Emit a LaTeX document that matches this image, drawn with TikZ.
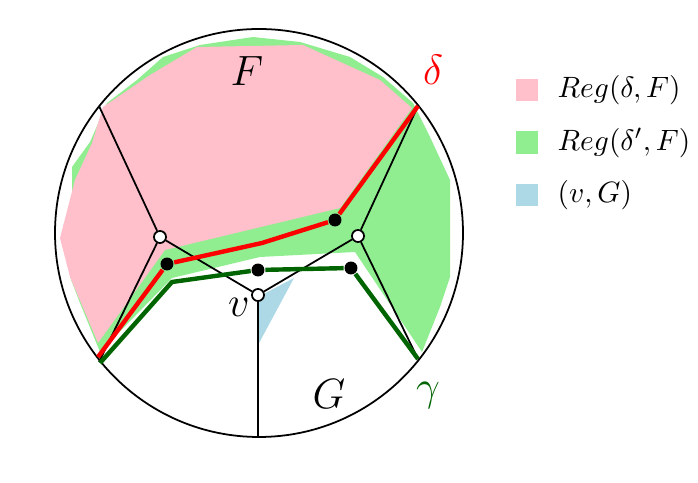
\documentclass[tikz,border=0pt]{standalone}
\usepackage{amsmath}
\usepackage{amssymb}
\usetikzlibrary{calc, positioning}
\definecolor{regpink}{RGB}{255,192,203}
\definecolor{reggreen}{RGB}{144,238,144}
\definecolor{regblue}{RGB}{173,216,230}
\definecolor{pathgreen}{RGB}{0,100,0}

\begin{document}
\begin{tikzpicture}[x=0.34pt, y=-0.34pt, line width=0.6pt,
		vert/.style = {draw, circle, fill=white, inner sep=0pt, minimum size=4.1pt},
		dot/.style = {circle, fill=black, inner sep=0pt, minimum size=4.4pt},
		key/.style = {inner sep=0pt, minimum size=7.6pt},
		lab/.style = {font=\Large},
		path/.style = {line width=1.5pt, line join=round}]
		\useasboundingbox (0,0) rectangle (698,483);
		% regions
		\fill[reggreen] (107,103) -- (137,80) -- (163,57) -- (200,45) -- (253,37) -- (300,42) -- (350,57) -- (383,77) -- (413,103) -- (430,137) -- (450,180) -- (450,277) -- (440,307) -- (422,352) -- (355,252) -- (260,257) -- (172,278) -- (100,352) -- (80,303) -- (70,277) -- (72,200) -- (72,167) -- (90,142) -- cycle;
		\fill[regpink] (103,107) -- (150,75) -- (197,47) -- (303,45) -- (380,80) -- (412,108) -- (340,208) -- (165,250) -- (98,343) -- (70,277) -- (60,238) -- (75,180) -- (92,143) -- cycle;
		\fill[regblue] (258,297) -- (294,278) -- (258,345) -- cycle;
		% circle and tree
		\coordinate (c) at (259,233);
		\draw (c) circle (204);
		\node[vert] (v) at (258,295) {};
		\node[vert] (u1) at (160,237) {};
		\node[vert] (u2) at (358,236) {};
		\coordinate (b1) at (99,106);
		\coordinate (b2) at (99,362);
		\coordinate (b3) at (418,106);
		\coordinate (b4) at (418,359);
		\coordinate (b5) at (258,437);
		\draw (u1) -- (b1);
		\draw (u1) -- (b2);
		\draw (u1) -- (v);
		\draw (v) -- (b5);
		\draw (v) -- (u2);
		\draw (u2) -- (b3);
		\draw (u2) -- (b4);
		% delta
		\node[dot] (d1) at (335,220) {};
		\node[dot] (d2) at (167,264) {};
		\coordinate (d0) at (262,243);
		\coordinate (d3) at (98,357);
		\draw[path, red] (b3) -- (d1) -- (d0) -- (d2) -- (d3);
		% gamma
		\node[dot] (g2) at (258,270) {};
		\node[dot] (g3) at (351,268) {};
		\coordinate (g0) at (100,363);
		\coordinate (g1) at (172,282);
		\draw[path, pathgreen] (g0) -- (g1) -- (g2) -- (g3) -- (b4);
		% labels
		\node[lab] (F) at (247,71) {$F$};
		\node[lab, red] (delta) at (433,70) {$\delta$};
		\node[lab] (vl) at (239,307) {$v$};
		\node[lab] (G) at (329,394) {$G$};
		\node[lab, pathgreen] (gamma) at (428,396) {$\gamma$};
		% legend
		\node[key, fill=regpink] (k1) at (527,90) {};
		\node[key, fill=reggreen] (k2) [below=9.7pt of k1] {};
		\node[key, fill=regblue] (k3) [below=9.7pt of k2] {};
		\node (t1) [right=2.7pt of k1] {$Reg(\delta, F)$};
		\node (t2) [right=2.7pt of k2] {$Reg(\delta', F)$};
		\node (t3) [right=2.7pt of k3] {$(v, G)$};
	\end{tikzpicture}
\end{document}
